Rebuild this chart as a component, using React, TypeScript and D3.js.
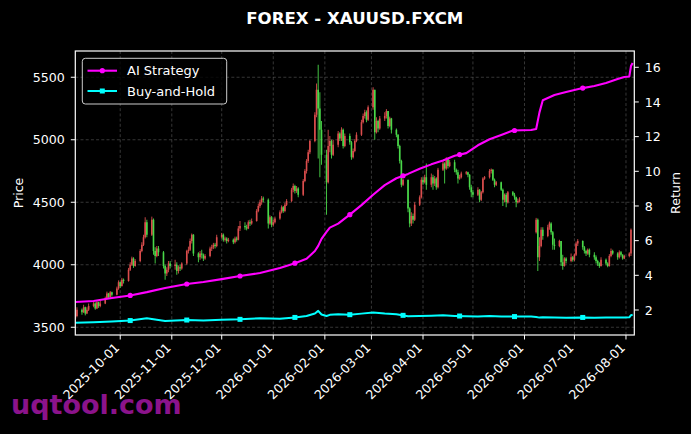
import React from "react";
import * as d3 from "d3";

const W = 691;
const H = 434;
const title = "FOREX - XAUUSD.FXCM";
const watermark = "uqtool.com";
const seriesNames = ["AI Strategy", "Buy-and-Hold"];

const priceTicks = [3500, 4000, 4500, 5000, 5500];
const returnTicks = [2, 4, 6, 8, 10, 12, 14, 16];
const monthTicks = [
  "2025-10-01", "2025-11-01", "2025-12-01", "2026-01-01", "2026-02-01", "2026-03-01",
  "2026-04-01", "2026-05-01", "2026-06-01", "2026-07-01", "2026-08-01",
];

// trading days (Mon-Fri) starting Thu 2025-09-04; one string per week, "-" = no candle
const firstTradingDay = "2025-09-04";
const firstOpen = 3565;
const gapOpens: Record<string, number> = { "2026-06-08": 4260 };

const closeWeeks = [
  "3590 3640",
  "3620 3660 3610 3640 3670", "3690 3650 3700 3670 3690", "3730 3770 3740 3780 3760",
  "3810 3860 3830 3880 3870", "3960 4000 4050 3990 4030", "4110 4160 4220 4340 4240",
  "4360 4110 4070 4130 4100", "3990 3930 3960 4010 3990", "4000 3950 3980 3970 4010",
  "4110 4120 4190 4240 4090", "4060 4090 4080 4050 4070", "4130 4140 4160 4150 4220",
  "4240 4200 4210 4190 4200", "4180 4210 4200 4290 4310", "4300 4290 4340 4330 4350",
  "4430 4470 4500 4530 4520", "4330 4380 4320 4340 4370", "4420 4460 4430 4480 4510",
  "4600 4630 4590 4610 4560", "4670 4750 4830 4900 4990", "5200 5400 5250 5080 4880",
  "4660 4950 4990 4880 4960", "5050 5010 5080 4950 5030", "4980 4860 4910 4990 5040",
  "5140 5190 5220 5160 5260", "5400 5060 5150 5090 5170", "5190 5230 5110 5170 5080",
  "5040 4950 4830 4640 4680", "4450 4330 4390 4360 4480", "4540 4680 4660 4700 4640",
  "4700 4650 4690 4620 4760", "4810 4770 4850 4790 4820", "4760 4740 4690 4700 4730",
  "4740 4720 4620 4580 4560", "4600 4520 4580 4690 4700", "4750 4760 4680 4640 4660",
  "4600 4520 4560 4500 4580", "4560 4540 4500 4510 4520", "- - - - -",
  "4360 4060 4150 4280 4230", "4300 4330 4260 4160 4150", "4190 4020 3990 4050 4030",
  "4060 4040 4080 4170 4190", "4140 4110 4090 4120 4080", "4060 4030 4010 3990 4040",
  "4010 3990 4070 4110 4090", "4060 4100 4080 4050 4070", "4090 4280 -",
];
const highWeeks = [
  "3610 3660",
  "3650 3680 3665 3660 3690", "3705 3700 3715 3705 3710", "3745 3785 3775 3790 3785",
  "3825 3875 3865 3895 3890", "3975 4020 4065 4060 4045", "4125 4180 4240 4380 4360",
  "4385 4370 4140 4150 4150", "4110 4000 3980 4030 4030", "4040 4020 3995 4000 4020",
  "4120 4145 4210 4250 4245", "4100 4110 4120 4090 4085", "4145 4160 4175 4175 4240",
  "4255 4250 4225 4220 4215", "4210 4225 4225 4310 4350", "4340 4320 4355 4360 4370",
  "4445 4490 4520 4550 4545", "4530 4395 4390 4360 4385", "4435 4475 4470 4495 4525",
  "4615 4650 4640 4630 4620", "4685 4765 4845 4920 5000", "5220 5450 5600 5380 5150",
  "4920 5080 5030 5000 5000", "5070 5060 5100 5090 5050", "5050 4990 4930 5005 5060",
  "5160 5210 5240 5235 5275", "5420 5390 5180 5160 5190", "5220 5245 5230 5185 5175",
  "5090 5045 4960 4840 4690", "4570 4460 4420 4410 4500", "4555 4700 4700 4720 4810",
  "4730 4720 4710 4700 4775", "4830 4820 4860 4855 4840", "4840 4770 4760 4720 4745",
  "4750 4745 4725 4640 4600", "4620 4605 4590 4700 4710", "4765 4770 4765 4690 4670",
  "4665 4610 4570 4575 4590", "4590 4575 4545 4530 4540", "- - - - -",
  "4375 4370 4220 4300 4300", "4320 4345 4340 4270 4210", "4200 4190 4080 4060 4060",
  "4090 4070 4090 4185 4205", "4195 4150 4120 4130 4130", "4100 4075 4040 4020 4060",
  "4050 4020 4085 4130 4120", "4100 4115 4110 4085 4080", "4100 4290 -",
];
const lowWeeks = [
  "3550 3580",
  "3600 3615 3595 3605 3630", "3660 3640 3645 3655 3660", "3685 3725 3730 3735 3745",
  "3755 3800 3815 3825 3850", "3865 3950 3990 3975 3985", "4020 4100 4150 4210 4220",
  "4230 4080 4010 4060 4070", "3970 3880 3910 3940 3970", "3960 3920 3930 3950 3960",
  "4000 4090 4110 4170 4070", "4020 4040 4050 4030 4040", "4060 4110 4125 4130 4140",
  "4210 4185 4185 4170 4180", "4165 4170 4185 4195 4270", "4280 4275 4285 4310 4320",
  "4345 4420 4455 4480 4500", "4290 4320 4300 4305 4330", "4360 4410 4415 4420 4470",
  "4500 4580 4570 4575 4540", "4550 4660 4730 4815 4885", "4980 5180 4850 4700 4800",
  "4400 4650 4900 4850 4870", "4940 4990 4990 4930 4940", "4960 4840 4850 4900 4980",
  "5030 5130 5170 5140 5150", "5240 5000 5050 5060 5080", "5150 5170 5090 5100 5050",
  "5020 4930 4810 4620 4630", "4420 4300 4310 4330 4350", "4470 4530 4640 4650 4600",
  "4620 4600 4630 4600 4610", "4750 4650 4760 4770 4780", "4740 4720 4650 4680 4690",
  "4720 4700 4600 4540 4540", "4550 4500 4510 4570 4680", "4690 4730 4670 4620 4630",
  "4590 4470 4500 4460 4490", "4550 4520 4460 4490 4500", "- - - - -",
  "4250 3950 4030 4140 4200", "4220 4280 4240 4120 4120", "4140 3990 3960 3985 4010",
  "4020 4025 4030 4070 4150", "4120 4090 4070 4080 4060", "4040 4010 3990 3975 3985",
  "3995 3980 3985 4060 4080", "4040 4050 4065 4040 4045", "4060 4070 -",
];

// strategy return curves (right axis)
const lineDates = [
  "2025-09-04", "2025-09-15", "2025-09-26", "2025-10-07", "2025-10-17", "2025-10-28",
  "2025-11-10", "2025-11-20", "2025-12-01", "2025-12-12", "2025-12-24", "2026-01-05",
  "2026-01-14", "2026-01-21", "2026-01-26", "2026-01-28", "2026-01-30", "2026-02-02",
  "2026-02-04", "2026-02-09", "2026-02-16", "2026-02-23", "2026-03-02", "2026-03-09",
  "2026-03-16", "2026-03-23", "2026-03-30", "2026-04-06", "2026-04-13", "2026-04-20",
  "2026-04-27", "2026-05-04", "2026-05-11", "2026-05-18", "2026-05-25", "2026-06-05",
  "2026-06-08", "2026-06-10", "2026-06-12", "2026-06-19", "2026-06-26", "2026-07-06",
  "2026-07-13", "2026-07-20", "2026-07-27", "2026-07-31", "2026-08-03", "2026-08-04",
  "2026-08-05",
];
const aiReturn = [
  2.46, 2.52, 2.69, 2.84, 3.03, 3.27, 3.5, 3.61, 3.78, 3.96, 4.13, 4.42, 4.7, 4.95, 5.4,
  5.7, 6.1, 6.5, 6.75, 6.98, 7.5, 8.05, 8.65, 9.2, 9.6, 9.85, 10.15, 10.4, 10.62, 10.9,
  11.05, 11.5, 11.85, 12.1, 12.35, 12.38, 12.44, 13.4, 14.1, 14.4, 14.57, 14.8, 14.92,
  15.1, 15.33, 15.44, 15.47, 16.07, 16.25,
];
const bhReturn = [
  1.27, 1.29, 1.33, 1.39, 1.52, 1.37, 1.42, 1.4, 1.44, 1.46, 1.52, 1.5, 1.57, 1.65, 1.8,
  1.95, 1.74, 1.65, 1.72, 1.76, 1.73, 1.79, 1.86, 1.8, 1.76, 1.64, 1.66, 1.67, 1.69, 1.66,
  1.64, 1.62, 1.65, 1.62, 1.62, 1.62, 1.6, 1.56, 1.58, 1.57, 1.55, 1.57, 1.55, 1.56, 1.57,
  1.57, 1.58, 1.7, 1.72,
];
const markerDates = [
  "2025-10-07", "2025-11-10", "2025-12-12", "2026-01-14", "2026-02-16", "2026-03-20",
  "2026-04-23", "2026-05-26", "2026-07-06",
];

const FONT = "DejaVu Sans, Verdana, sans-serif";
const UP = "#f25656";
const DOWN = "#52f052";
const AI_COLOR = "#ff00ff";
const BH_COLOR = "#00ffff";

const parse = d3.timeParse("%Y-%m-%d");
const fmt = d3.timeFormat("%Y-%m-%d");

type Candle = { date: Date; o: number; h: number; l: number; c: number };

function buildCandles(): Candle[] {
  const toks = (arr: string[]) => arr.flatMap((s) => s.trim().split(/\s+/));
  const cs = toks(closeWeeks);
  const hs = toks(highWeeks);
  const ls = toks(lowWeeks);
  const out: Candle[] = [];
  let day = parse(firstTradingDay) as Date;
  let prev = firstOpen;
  for (let i = 0; i < cs.length; i++) {
    while (day.getDay() === 0 || day.getDay() === 6) day = d3.timeDay.offset(day, 1);
    if (cs[i] !== "-") {
      const c = +cs[i];
      const key = fmt(day);
      const o = gapOpens[key] !== undefined ? gapOpens[key] : prev;
      const h = Math.max(+hs[i], o, c);
      const l = Math.min(+ls[i], o, c);
      out.push({ date: day, o, h, l, c });
      prev = c;
    }
    day = d3.timeDay.offset(day, 1);
  }
  return out;
}

export default function App() {
  const left = 75.3, right = 634.3, top = 51, bottom = 335;
  const x = d3.scaleTime()
    .domain([new Date(2025, 8, 4), new Date(2026, 7, 6)])
    .range([left, right]);
  const yP = d3.scaleLinear().domain([3438, 5710]).range([bottom, top]);
  const yR = d3.scaleLinear().domain([0.557, 16.94]).range([bottom, top]);

  const candles = buildCandles();
  const lDates = lineDates.map((s) => parse(s) as Date);
  const aiPts = lDates.map((d, i) => [d, aiReturn[i]] as [Date, number]);
  const bhPts = lDates.map((d, i) => [d, bhReturn[i]] as [Date, number]);
  const line = d3.line<[Date, number]>().x((d) => x(d[0])).y((d) => yR(d[1]));

  const interp = (pts: [Date, number][], d: Date) => {
    const bis = d3.bisector((p: [Date, number]) => p[0]).left;
    const i = Math.max(1, Math.min(pts.length - 1, bis(pts, d)));
    const a = pts[i - 1], b = pts[i];
    const t = (+d - +a[0]) / (+b[0] - +a[0]);
    return a[1] + (b[1] - a[1]) * t;
  };
  const mDates = markerDates.map((s) => parse(s) as Date);

  const mTicks = monthTicks.map((s) => parse(s) as Date);
  const bodyW = 1.6;
  const grid = { stroke: "#5a5a5a", strokeWidth: 0.6, strokeDasharray: "3,2.2" };

  return (
    <svg width={W} height={H} style={{ position: "absolute", left: 0, top: 0, display: "block" }}
      fontFamily={FONT}>
      <rect x={0} y={0} width={W} height={H} fill="#000" />
      <defs>
        <clipPath id="plot">
          <rect x={left} y={top} width={right - left} height={bottom - top} />
        </clipPath>
      </defs>

      <text x={(left + right) / 2} y={24} textAnchor="middle" fill="#fff" fontSize={16.6}
        fontWeight="bold">{title}</text>

      {/* grid */}
      {mTicks.map((d, i) => (
        <line key={"gx" + i} x1={x(d)} x2={x(d)} y1={top} y2={bottom} {...grid} />
      ))}
      {priceTicks.map((v, i) => (
        <line key={"gy" + i} x1={left} x2={right} y1={yP(v)} y2={yP(v)} {...grid} />
      ))}

      <g clipPath="url(#plot)">
        {candles.map((k, i) => {
          const col = k.c >= k.o ? UP : DOWN;
          const cx = x(k.date);
          const y1 = yP(Math.max(k.o, k.c));
          const y2 = yP(Math.min(k.o, k.c));
          return (
            <g key={"k" + i} opacity={0.9}>
              <line x1={cx} x2={cx} y1={yP(k.h)} y2={yP(k.l)} stroke={col} strokeWidth={0.9} />
              <rect x={cx - bodyW / 2} y={y1} width={bodyW} height={Math.max(0.8, y2 - y1)} fill={col} />
            </g>
          );
        })}
        <path d={line(bhPts) || ""} fill="none" stroke={BH_COLOR} strokeWidth={2} strokeLinejoin="round" />
        <path d={line(aiPts) || ""} fill="none" stroke={AI_COLOR} strokeWidth={2.1} strokeLinejoin="round" />
        {mDates.map((d, i) => (
          <rect key={"mb" + i} x={x(d) - 2.5} y={yR(interp(bhPts, d)) - 2.5} width={5} height={5} fill={BH_COLOR} />
        ))}
        {mDates.map((d, i) => (
          <circle key={"ma" + i} cx={x(d)} cy={yR(interp(aiPts, d))} r={2.6} fill={AI_COLOR} />
        ))}
      </g>

      {/* spines */}
      <rect x={left} y={top} width={right - left} height={bottom - top} fill="none" stroke="#fff" strokeWidth={1.2} />

      {/* left axis */}
      {priceTicks.map((v, i) => (
        <g key={"lp" + i}>
          <line x1={left - 4.5} x2={left} y1={yP(v)} y2={yP(v)} stroke="#fff" strokeWidth={1} />
          <text x={left - 10.5} y={yP(v)} dy="0.36em" textAnchor="end" fill="#fff" fontSize={12.6}>{v}</text>
        </g>
      ))}
      {/* right axis */}
      {returnTicks.map((v, i) => (
        <g key={"rr" + i}>
          <line x1={right} x2={right + 4.5} y1={yR(v)} y2={yR(v)} stroke="#fff" strokeWidth={1} />
          <text x={right + 10.5} y={yR(v)} dy="0.36em" textAnchor="start" fill="#fff" fontSize={12.6}>{v}</text>
        </g>
      ))}
      {/* bottom axis */}
      {mTicks.map((d, i) => (
        <g key={"bx" + i}>
          <line x1={x(d)} x2={x(d)} y1={bottom} y2={bottom + 4.5} stroke="#fff" strokeWidth={1} />
          <text transform={`translate(${x(d)},${348.5}) rotate(-45)`} textAnchor="end" fill="#fff"
            fontSize={12.6}>{monthTicks[i]}</text>
        </g>
      ))}

      <text transform={`translate(23,${(top + bottom) / 2}) rotate(-90)`} textAnchor="middle" fill="#fff"
        fontSize={12.6}>Price</text>
      <text transform={`translate(680,${(top + bottom) / 2}) rotate(-90)`} textAnchor="middle" fill="#fff"
        fontSize={12.6}>Return</text>

      {/* legend */}
      <g>
        <rect x={82.3} y={58.3} width={144.4} height={45.7} rx={3} fill="#000" fillOpacity={0.8}
          stroke="#cccccc" strokeWidth={1} />
        <line x1={87.5} x2={117} y1={70.7} y2={70.7} stroke={AI_COLOR} strokeWidth={2.1} />
        <circle cx={102.3} cy={70.7} r={2.6} fill={AI_COLOR} />
        <text x={127} y={70.7} dy="0.36em" fill="#fff" fontSize={13}>{seriesNames[0]}</text>
        <line x1={87.5} x2={117} y1={91} y2={91} stroke={BH_COLOR} strokeWidth={2} />
        <rect x={99.8} y={88.5} width={5} height={5} fill={BH_COLOR} />
        <text x={127} y={91} dy="0.36em" fill="#fff" fontSize={13}>{seriesNames[1]}</text>
      </g>

      <text x={11} y={414} fill="#8b138b" fontSize={27} fontWeight="bold">{watermark}</text>
    </svg>
  );
}
